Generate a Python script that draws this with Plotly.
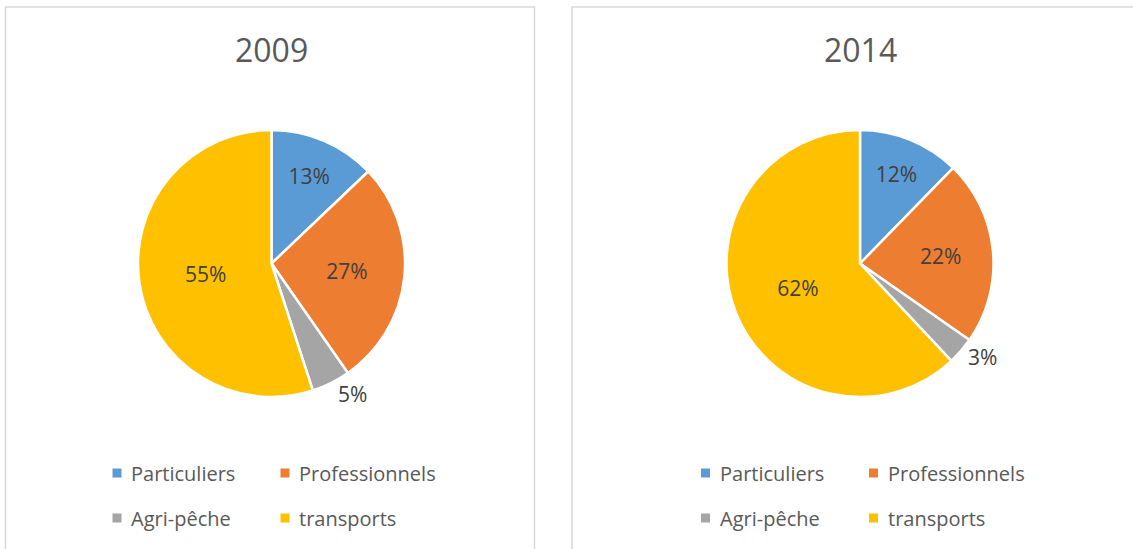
import plotly.graph_objects as go

# ---- data ----
categories = ["Particuliers", "Professionnels", "Agri-pêche", "transports"]
colors = ["#5B9BD5", "#ED7D31", "#A5A5A5", "#FFC000"]
years = ["2009", "2014"]
shares_2009 = [12.9, 27.4, 4.7, 55.0]
shares_2014 = [12.3, 22.4, 3.3, 62.0]

# ---- layout constants (pixels) ----
W, H = 1133, 549
FONT = "'Open Sans', Lato, sans-serif"
TEXT_GREY = "#595959"
LABEL_GREY = "#404040"
BORDER = "#D9D9D9"
pie_centers = [(271.5, 263.5), (860.0, 263.5)]
R = 133.5
panels = [(5.5, 534.5), (572.0, 1160.0)]
PANEL_TOP = 7
TITLE_Y = 50
LEG_ROW_Y = [473, 518]
LEG_COL_DX = [-154.5, 13.5]
LEG_SQ = 9
LEG_TEXT_GAP = 12


def px(x):
    return x / W


def py(y):
    return 1 - y / H


fig = go.Figure()
shapes = []
annotations = []

for year, values, (cx, cy), (p0, p1) in zip(years, [shares_2009, shares_2014],
                                            pie_centers, panels):
    fig.add_trace(go.Pie(
        labels=categories, values=values, name=year,
        sort=False, direction="clockwise", rotation=0,
        marker=dict(colors=colors, line=dict(color="white", width=2.5)),
        texttemplate="%{percent:.0%}",
        textposition=["outside" if v < 8 else "inside" for v in values],
        insidetextorientation="horizontal",
        textfont=dict(family=FONT, size=21, color=LABEL_GREY),
        domain=dict(x=[px(cx - R), px(cx + R)], y=[py(cy + R), py(cy - R)]),
        showlegend=False, hoverinfo="label+percent",
    ))
    # panel frame
    shapes.append(dict(type="rect", xref="paper", yref="paper",
                       x0=px(p0), x1=px(p1), y0=py(H + 20), y1=py(PANEL_TOP),
                       line=dict(color=BORDER, width=1.5), fillcolor="rgba(0,0,0,0)",
                       layer="below"))
    # title
    annotations.append(dict(text=year, xref="paper", yref="paper",
                            x=px(cx), y=py(TITLE_Y), xanchor="center", yanchor="middle",
                            showarrow=False,
                            font=dict(family=FONT, size=32, color=TEXT_GREY)))
    # legend (2 x 2)
    for j, (cat, col) in enumerate(zip(categories, colors)):
        mx = cx + LEG_COL_DX[j % 2]
        my = LEG_ROW_Y[j // 2]
        shapes.append(dict(type="rect", xref="paper", yref="paper",
                           x0=px(mx - LEG_SQ / 2), x1=px(mx + LEG_SQ / 2),
                           y0=py(my + LEG_SQ / 2), y1=py(my - LEG_SQ / 2),
                           line=dict(width=0), fillcolor=col))
        annotations.append(dict(text=cat, xref="paper", yref="paper",
                                x=px(mx + LEG_TEXT_GAP), y=py(my),
                                xanchor="left", yanchor="middle", showarrow=False,
                                font=dict(family=FONT, size=20, color=TEXT_GREY)))

fig.update_layout(
    width=W, height=H,
    margin=dict(l=0, r=0, t=0, b=0, autoexpand=False),
    paper_bgcolor="white", plot_bgcolor="white",
    showlegend=False,
    shapes=shapes, annotations=annotations,
    font=dict(family=FONT, color=TEXT_GREY),
)

fig.write_html("out.html", config={"displayModeBar": False},
               post_script="document.body.style.margin='0';")
